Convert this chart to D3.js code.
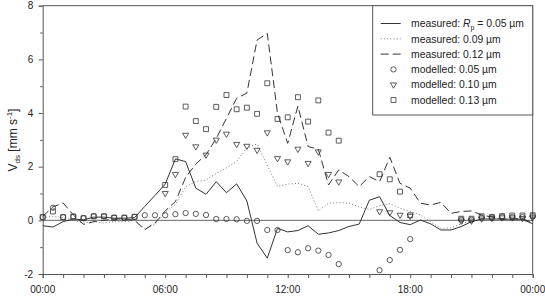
<!DOCTYPE html>
<html>
<head>
<meta charset="utf-8">
<script src="https://cdn.jsdelivr.net/npm/d3@7"></script>
<style>
  body { margin: 0; background: #fff; }
  text { font-family: "Liberation Sans", Arial, sans-serif; fill: #222; }
</style>
</head>
<body>
<div id="chart"></div>
<script>
// half-hourly time grid, 00:00 .. 24:00
const hours = d3.range(0, 24.5, 0.5)

const measured005 = [-0.2, -0.25, -0.05, 0.05, 0.02, 0.12, 0.12, 0.08, 0.08, 0.1,
  0.52, 0.93, 1.35, 2.29, 2.19, 1.2, 0.97, 1.44, 1.03, 1.36,
  0.72, -0.85, -1.41, -0.3, -0.43, -0.38, -0.2, -0.52, -0.47, -0.38,
  -0.23, -0.14, 0.75, 0.88, 0.18, -0.08, -0.16, 0.01, -0.13, -0.36,
  -0.36, -0.23, -0.05, 0.05, 0.05, 0.05, 0.04, 0.04, -0.13]

const measured009 = [0.1, 0.15, 0.1, 0.0, -0.1, -0.05, -0.1, -0.05, -0.05, 0.0,
  -0.3, -0.15, 0.3, 0.6, 1.25, 1.45, 1.5, 1.75, 1.95, 2.2,
  2.7, 2.85, 2.05, 1.26, 1.35, 1.38, 1.26, 0.35, 0.64, 0.66,
  0.64, 0.5, 0.4, 0.55, 0.62, 0.45, 0.33, 0.2, -0.05, -0.3,
  -0.28, -0.13, -0.02, 0.0, 0.02, 0.0, 0.0, -0.02, -0.1]

const measured012 = [0.15, 0.5, 0.65, 0.2, -0.15, -0.05, 0.0, 0.05, 0.05, 0.0,
  -0.35, -0.1, 0.35, 0.7, 1.6, 2.1, 2.45, 3.05, 3.8, 4.55,
  4.74, 6.72, 6.97, 3.99, 2.87, 4.26, 2.75, 2.65, 1.32, 1.88,
  1.63, 1.26, 1.63, 1.44, 2.35, 1.38, 1.2, 0.64, 0.57, 0.67,
  0.26, 0.33, 0.35, 0.2, 0.12, 0.04, 0.06, 0.06, -0.09]

const modelled005 = [0.12, 0.47, 0.12, 0.14, 0.08, 0.15, 0.15, 0.1, 0.1, 0.13,
  0.19, 0.19, 0.19, 0.23, 0.27, 0.24, 0.2, 0.05, 0.05, 0.04,
  -0.02, -0.02, -0.36, -0.36, -1.11, -1.19, -1.04, -1.13, -1.29, -1.63,
  null, null, null, -1.86, -1.48, -1.1, -0.7, null, null, null,
  null, 0.02, 0.02, 0.1, 0.1, 0.12, 0.12, 0.12, 0.15]

const modelled010 = [null, null, null, null, null, null, null, null, null, null,
  null, null, 1.01, 1.72, 3.18, 2.75, 2.44, 3.0, 3.22, 2.84,
  2.77, 2.62, 3.27, 2.31, 2.19, 2.66, 2.13, 2.56, 1.72, 1.44,
  null, null, null, 0.33, 0.29, 0.2, 0.16, null, null, null,
  null, -0.02, -0.02, 0.06, 0.08, 0.1, 0.1, 0.08, 0.1]

const modelled013 = [0.12, 0.33, 0.12, 0.14, 0.08, 0.15, 0.15, 0.1, 0.1, 0.13,
  null, null, 1.32, 2.28, 4.24, 3.7, 3.4, 4.23, 4.67, 4.14,
  4.2, 3.97, 5.11, 3.78, 3.84, 4.59, 3.68, 4.47, 3.27, 2.97,
  null, null, null, 1.72, 1.53, 1.07, 0.19, null, null, null,
  null, 0.06, 0.06, 0.15, 0.13, 0.16, 0.18, 0.18, 0.19]

const xTicks = [0, 6, 12, 18, 24]
const xTickLabels = ['00:00', '06:00', '12:00', '18:00', '00:00']
const yTicks = [-2, 0, 2, 4, 6, 8]

const W = 545, H = 297
const margin = { top: 5.7, left: 42.7, right: 12.3, bottom: 23 }
const width = W - margin.left - margin.right
const height = H - margin.top - margin.bottom
const axisColor = '#555'
const ink = '#333'

const svg = d3.select('#chart').append('svg')
  .attr('width', W).attr('height', H)
const g = svg.append('g')
  .attr('transform', `translate(${margin.left},${margin.top})`)

const x = d3.scaleLinear().domain([0, 24]).range([0, width])
const y = d3.scaleLinear().domain([-2, 8]).range([height, 0])

// zero line
g.append('line')
  .attr('x1', 0).attr('x2', width)
  .attr('y1', y(0)).attr('y2', y(0))
  .attr('stroke', '#666').attr('stroke-width', 1)

// frame top + right
g.append('path')
  .attr('d', `M0,0H${width}V${height}`)
  .attr('fill', 'none').attr('stroke', axisColor).attr('stroke-width', 1)

// x axis: hourly minor ticks, labels every 6 h
const xAxis = g.append('g').attr('transform', `translate(0,${height})`)
  .call(d3.axisBottom(x).tickValues(d3.range(0, 25, 1)).tickSize(4).tickFormat(''))
xAxis.select('.domain').attr('stroke', axisColor)
xAxis.selectAll('.tick line').attr('stroke', axisColor)
xAxis.selectAll('.lbl').data(xTicks).enter().append('text')
  .attr('x', d => x(d)).attr('y', 18.5)
  .attr('text-anchor', 'middle').attr('font-size', 10)
  .text((d, i) => xTickLabels[i])

// y axis
const yAxis = g.append('g')
  .call(d3.axisLeft(y).tickValues(d3.range(-2, 9, 1)).tickSize(4)
    .tickFormat(d => yTicks.includes(d) ? d : ''))
yAxis.select('.domain').attr('stroke', axisColor)
yAxis.selectAll('.tick line').attr('stroke', axisColor)
  .attr('x2', d => yTicks.includes(d) ? -4 : -2.5)
yAxis.selectAll('.tick text')
  .attr('x', -9.5).attr('font-size', 10)
  .attr('font-family', '"Liberation Sans", Arial, sans-serif').attr('fill', '#222')

// y label
const yl = svg.append('text')
  .attr('transform', 'translate(16.5,140) rotate(-90)')
  .attr('text-anchor', 'middle').attr('font-size', 12)
yl.append('tspan').text('V')
yl.append('tspan').attr('font-size', 8).attr('dy', 3).text('ds')
yl.append('tspan').attr('dy', -3).text(' [mm s')
yl.append('tspan').attr('font-size', 8).attr('dy', -4.5).text('-1')
yl.append('tspan').attr('dy', 4.5).text(']')

// measured lines
const line = d3.line()
  .defined(d => d[1] != null)
  .x(d => x(d[0])).y(d => y(d[1]))

const lineSeries = [
  { values: measured005, dash: null, color: ink, w: 1 },
  { values: measured009, dash: '1,2.2', color: '#777', w: 1 },
  { values: measured012, dash: '8,4', color: ink, w: 1 }
]
lineSeries.forEach(s => {
  g.append('path')
    .datum(hours.map((h, i) => [h, s.values[i]]))
    .attr('d', line)
    .attr('fill', 'none')
    .attr('stroke', s.color)
    .attr('stroke-width', s.w)
    .attr('stroke-dasharray', s.dash)
})

// modelled symbols
const symCircle = d3.symbol().type(d3.symbolCircle).size(22)
const symSquare = d3.symbol().type(d3.symbolSquare).size(24)
const symTri = d3.symbol().type(d3.symbolTriangle).size(16)

const pointSeries = [
  { values: modelled005, sym: symCircle, rot: 0 },
  { values: modelled010, sym: symTri, rot: 180 },
  { values: modelled013, sym: symSquare, rot: 0 }
]
pointSeries.forEach(s => {
  g.append('g').selectAll('path')
    .data(hours.map((h, i) => [h, s.values[i]]).filter(d => d[1] != null))
    .enter().append('path')
    .attr('d', s.sym())
    .attr('transform', d => `translate(${x(d[0])},${y(d[1])}) rotate(${s.rot})`)
    .attr('fill', 'none')
    .attr('stroke', ink)
    .attr('stroke-width', 0.8)
})

// legend
const lg = svg.append('g')
lg.append('rect')
  .attr('x', 372.7).attr('y', 5.7)
  .attr('width', 532.7 - 372.7).attr('height', 115 - 5.7)
  .attr('fill', '#fff').attr('stroke', axisColor).attr('stroke-width', 1)

const legendRows = [0, 1, 2, 3, 4, 5]
const rowY = i => 23.5 + i * 15.3
const legendLabels = [
  null,
  'measured: 0.09 \u00b5m',
  'measured: 0.12 \u00b5m',
  'modelled: 0.05 \u00b5m',
  'modelled: 0.10 \u00b5m',
  'modelled: 0.13 \u00b5m'
]

legendRows.forEach(i => {
  const t = lg.append('text')
    .attr('x', 411).attr('y', rowY(i) + 3.7).attr('font-size', 10.4)
  if (i === 0) {
    t.append('tspan').text('measured: ')
    t.append('tspan').attr('font-style', 'italic').text('R')
    t.append('tspan').attr('font-size', 7).attr('dy', 2.5).text('p')
    t.append('tspan').attr('dy', -2.5).text(' = 0.05 \u00b5m')
  } else {
    t.text(legendLabels[i])
  }
  if (i < 3) {
    const s = lineSeries[i]
    lg.append('line')
      .attr('x1', 380.7).attr('x2', 400.7)
      .attr('y1', rowY(i)).attr('y2', rowY(i))
      .attr('stroke', s.color).attr('stroke-width', s.w)
      .attr('stroke-dasharray', s.dash)
  } else {
    const s = pointSeries[i - 3]
    lg.append('path')
      .attr('d', s.sym())
      .attr('transform', `translate(393.5,${rowY(i)}) rotate(${s.rot})`)
      .attr('fill', 'none').attr('stroke', ink).attr('stroke-width', 0.8)
  }
})
</script>
</body>
</html>
